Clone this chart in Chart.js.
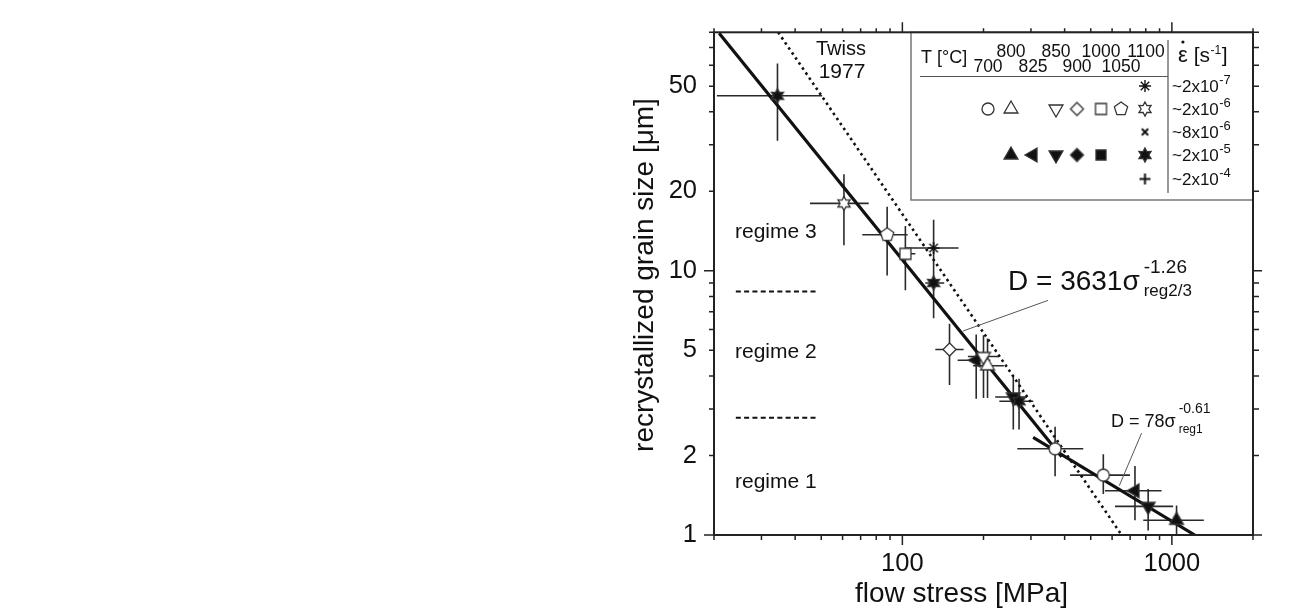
<!DOCTYPE html>
<html>
<head>
<meta charset="utf-8">
<script src="https://cdn.jsdelivr.net/npm/chart.js@4.4.1/dist/chart.umd.min.js"></script>
<style>
  html, body { margin: 0; padding: 0; background: #fff; }
  #wrap { width: 1298px; height: 615px; }
</style>
</head>
<body>
<div id="wrap"><canvas id="chart" width="1298" height="615"></canvas></div>
<script>
// measured points: flow stress [MPa] and recrystallized grain size [um], with error ranges
var stress    = [34.4, 60.7, 87.8, 102.6, 130.6, 130.6, 149.6, 187.9, 200, 207, 258, 271, 368.7, 556.7, 729.6, 816.6, 1040.8];
var stressLo  = [20.5, 45.4, 71.0, 97.7, 102.6, 121.7, 132.5, 160.3, 175, 183, 221, 229, 267, 419, 564.5, 615, 783];
var stressHi  = [50.4, 75.0, 104.6, 111.7, 161.6, 143, 168.7, 212, 228, 238, 290, 306, 469, 699, 915.7, 1011, 1314];
var grainSize = [46.0, 18.0, 13.7, 11.6, 12.2, 9.0, 5.04, 4.59, 4.74, 4.37, 3.33, 3.21, 2.12, 1.685, 1.47, 1.283, 1.137];
var sizeLo    = [31.1, 12.5, 9.6, 8.44, 9.0, 6.62, 3.70, 3.28, 3.3, 3.3, 2.51, 2.51, 1.67, 1.43, 1.137, 1.04, 1.0];
var sizeHi    = [60.9, 23.2, 17.5, 14.8, 15.6, 11.5, 6.30, 5.74, 5.7, 5.55, 4.02, 3.90, 2.57, 2.02, 1.824, 1.494, 1.294];
var symbols   = ['starFilled', 'starOpen', 'pentagonOpen', 'squareOpen', 'asterisk', 'starFilled', 'diamondOpen',
                 'triLeftFilled', 'triDownOpen', 'triUpOpen', 'triDownFilled', 'starFilled', 'circleOpen', 'circleOpen',
                 'triLeftFilled', 'triDownFilled', 'triUpFilled'];

// lines
var twissStress = [34.6, 651];
var twissSize   = [80, 1];
var reg23Stress = [20.9, 390];
var reg23Size   = [79.3, 1.98];
var reg1Stress  = [305.6, 1216];
var reg1Size    = [2.34, 1.0];
var regimeStress = [24.1, 48.9];
var regimeBounds = [8.35, 2.78];

// axes
var xTickVals = [20, 30, 40, 50, 60, 70, 80, 90, 100, 200, 300, 400, 500, 600, 700, 800, 900, 1000, 2000];
var yTickVals = [1, 2, 3, 4, 5, 6, 7, 8, 9, 10, 20, 30, 40, 50, 60, 70, 80];
var xLabels = [100, 1000];
var yLabels = [1, 2, 5, 10, 20, 50];

// legend table
var tempTop = ['800', '850', '1000', '1100'];
var tempBottom = ['700', '825', '900', '1050'];
var rateMant = ['~2x10', '~2x10', '~8x10', '~2x10', '~2x10'];
var rateExp = ['-7', '-6', '-6', '-5', '-4'];
var legendRows = [
  [['asterisk', '1100']],
  [['circleOpen', '700'], ['triUpOpen', '800'], ['triDownOpen', '850'], ['diamondOpen', '900'],
   ['squareOpen', '1000'], ['pentagonOpen', '1050'], ['starOpen', '1100']],
  [['xcross', '1100']],
  [['triUpFilled', '800'], ['triLeftFilled', '825'], ['triDownFilled', '850'], ['diamondFilled', '900'],
   ['squareFilled', '1000'], ['starFilled', '1100']],
  [['plus', '1100']]
];

var FONT = '"Liberation Sans", Arial, Helvetica, sans-serif';

var markerSize = {
  circleOpen: 6, squareOpen: 5.5, squareFilled: 5, diamondOpen: 6.5, diamondFilled: 6.5,
  triUpOpen: 8, triDownOpen: 8, triUpFilled: 8, triDownFilled: 8, triLeftFilled: 8,
  pentagonOpen: 7, starOpen: 7, starFilled: 7, asterisk: 6, xcross: 4.5, plus: 5.5
};

function poly(g, n, r, rot) {
  for (var i = 0; i < n; i++) {
    var a = rot - Math.PI / 2 + i * 2 * Math.PI / n;
    if (i === 0) g.moveTo(r * Math.cos(a), r * Math.sin(a));
    else g.lineTo(r * Math.cos(a), r * Math.sin(a));
  }
  g.closePath();
}

function starPath(g, n, r1, r2) {
  for (var i = 0; i < 2 * n; i++) {
    var a = -Math.PI / 2 + i * Math.PI / n;
    var r = i % 2 ? r2 : r1;
    if (i === 0) g.moveTo(r * Math.cos(a), r * Math.sin(a));
    else g.lineTo(r * Math.cos(a), r * Math.sin(a));
  }
  g.closePath();
}

var markerCache = {};
function makeMarker(kind, r) {
  var key = kind + r;
  if (markerCache[key]) return markerCache[key];
  var c = document.createElement('canvas');
  c.width = c.height = Math.ceil(2 * r + 6);
  var g = c.getContext('2d');
  var m = c.width / 2;
  g.translate(m, m);
  var filled = /Filled$/.test(kind);
  var base = kind.replace('Filled', '').replace('Open', '');
  g.lineWidth = 1.3;
  g.strokeStyle = '#333';
  g.fillStyle = filled ? '#111' : '#fff';
  g.beginPath();
  if (base === 'asterisk' || base === 'xcross' || base === 'plus') {
    g.strokeStyle = '#111';
    g.lineWidth = base === 'asterisk' ? 1.4 : 2;
    var n = base === 'asterisk' ? 4 : 2;
    var off = base === 'xcross' ? Math.PI / 4 : 0;
    for (var i = 0; i < n; i++) {
      var a = off + i * Math.PI / n;
      g.moveTo(-r * Math.cos(a), -r * Math.sin(a));
      g.lineTo(r * Math.cos(a), r * Math.sin(a));
    }
    g.stroke();
  } else {
    if (base === 'circle') g.arc(0, 0, r, 0, 2 * Math.PI);
    else if (base === 'square') g.rect(-r, -r, 2 * r, 2 * r);
    else if (base === 'diamond') poly(g, 4, r, 0);
    else if (base === 'triUp') poly(g, 3, r, 0);
    else if (base === 'triDown') poly(g, 3, r, Math.PI);
    else if (base === 'triLeft') poly(g, 3, r, -Math.PI / 2);
    else if (base === 'pentagon') poly(g, 5, r, 0);
    else if (base === 'star') starPath(g, 6, r, r * 0.55);
    g.fill();
    g.stroke();
  }
  markerCache[key] = c;
  return c;
}

function pts(xs, ys) {
  return xs.map(function (v, i) { return { x: v, y: ys[i] }; });
}

function text(ctx, s, x, y, size, align) {
  ctx.font = size + 'px ' + FONT;
  ctx.textAlign = align || 'left';
  ctx.fillText(s, x, y);
  return ctx.measureText(s).width;
}

var errorBars = {
  id: 'errorBars',
  beforeDatasetsDraw: function (chart) {
    var ctx = chart.ctx, xs = chart.scales.x, ys = chart.scales.y;
    ctx.save();
    ctx.strokeStyle = '#2a2a2a';
    ctx.lineWidth = 1.6;
    ctx.beginPath();
    stress.forEach(function (s, i) {
      var px = xs.getPixelForValue(s), py = ys.getPixelForValue(grainSize[i]);
      ctx.moveTo(xs.getPixelForValue(stressLo[i]), py);
      ctx.lineTo(xs.getPixelForValue(stressHi[i]), py);
      ctx.moveTo(px, ys.getPixelForValue(sizeLo[i]));
      ctx.lineTo(px, ys.getPixelForValue(sizeHi[i]));
    });
    ctx.stroke();
    ctx.restore();
  }
};

var decor = {
  id: 'decor',
  afterDatasetsDraw: function (chart) {
    var ctx = chart.ctx, a = chart.chartArea, xs = chart.scales.x, ys = chart.scales.y;
    ctx.save();
    ctx.fillStyle = '#111';
    ctx.textBaseline = 'alphabetic';

    // leader lines for the fits
    ctx.strokeStyle = '#555';
    ctx.lineWidth = 1;
    ctx.beginPath();
    ctx.moveTo(xs.getPixelForValue(347), ys.getPixelForValue(7.73));
    ctx.lineTo(xs.getPixelForValue(168), ys.getPixelForValue(5.92));
    ctx.moveTo(xs.getPixelForValue(772), ys.getPixelForValue(2.43));
    ctx.lineTo(xs.getPixelForValue(638), ys.getPixelForValue(1.537));
    ctx.stroke();

    // equations
    var w = text(ctx, 'D = 3631\u03c3', 1008, 290, 28);
    text(ctx, '-1.26', 1008 + w + 4, 273, 19);
    text(ctx, 'reg2/3', 1008 + w + 4, 296, 17);
    w = text(ctx, 'D = 78\u03c3', 1111, 427, 18);
    text(ctx, '-0.61', 1111 + w + 3, 413, 14);
    text(ctx, 'reg1', 1111 + w + 3, 433, 12);

    text(ctx, 'Twiss', 841, 55, 20, 'center');
    text(ctx, '1977', 842, 78, 21, 'center');

    text(ctx, 'regime 3', 735, 238, 21);
    text(ctx, 'regime 2', 735, 358, 21);
    text(ctx, 'regime 1', 735, 488, 21);

    // legend box
    var bx = 911, by = a.top, bw = a.right - 911, bh = 200 - a.top;
    ctx.fillStyle = '#fff';
    ctx.fillRect(bx, by, bw, bh);
    ctx.strokeStyle = '#777';
    ctx.lineWidth = 1.5;
    ctx.strokeRect(bx, by, bw, bh);
    ctx.strokeStyle = '#555';
    ctx.lineWidth = 1.2;
    ctx.beginPath();
    ctx.moveTo(920, 76.5); ctx.lineTo(1168, 76.5);
    ctx.moveTo(1168, 40); ctx.lineTo(1168, 193);
    ctx.stroke();

    ctx.fillStyle = '#111';
    text(ctx, 'T [\u00b0C]', 921, 63, 18);
    var colX = { '700': 988, '800': 1011, '825': 1033, '850': 1056, '900': 1077, '1000': 1101, '1050': 1121, '1100': 1146 };
    tempTop.forEach(function (t) { text(ctx, t, colX[t], 56.5, 17.5, 'center'); });
    tempBottom.forEach(function (t) { text(ctx, t, colX[t], 71.5, 17.5, 'center'); });

    var rowY = [86, 109, 132, 155, 179];
    legendRows.forEach(function (row, r) {
      row.forEach(function (cell) {
        var img = makeMarker(cell[0], markerSize[cell[0]]);
        var cx = colX[cell[1]] - (cell[1] === '1100' ? 1 : 0);
        ctx.drawImage(img, cx - img.width / 2, rowY[r] - img.height / 2);
      });
      var mw = text(ctx, rateMant[r], 1172, rowY[r] + 6, 17);
      text(ctx, rateExp[r], 1172 + mw + 0.5, rowY[r] - 2, 13);
    });

    // strain rate header
    var ex = 1178;
    var ew = text(ctx, '\u03b5', ex, 62, 22);
    ctx.beginPath();
    ctx.arc(ex + ew / 2, 42, 1.6, 0, 2 * Math.PI);
    ctx.fill();
    var sw = text(ctx, ' [s', ex + ew, 62, 21);
    var supw = text(ctx, '-1', ex + ew + sw + 0.5, 54, 12);
    text(ctx, ']', ex + ew + sw + supw + 1, 62, 21);

    // ticks on all four sides, pointing outwards
    ctx.strokeStyle = '#222';
    ctx.lineWidth = 1.5;
    ctx.beginPath();
    function isDecade(v) { var l = Math.log10(v); return Math.abs(l - Math.round(l)) < 1e-9; }
    xTickVals.forEach(function (v) {
      var px = xs.getPixelForValue(v);
      var major = isDecade(v);
      ctx.moveTo(px, a.bottom); ctx.lineTo(px, a.bottom + (major ? 10 : 5));
      ctx.moveTo(px, a.top); ctx.lineTo(px, a.top - (major ? 10 : 4));
    });
    yTickVals.forEach(function (v) {
      var py = ys.getPixelForValue(v);
      var major = isDecade(v);
      ctx.moveTo(a.left, py); ctx.lineTo(a.left - (major ? 10 : 5), py);
      ctx.moveTo(a.right, py); ctx.lineTo(a.right + (major ? 9 : 6), py);
    });
    ctx.stroke();
    ctx.lineWidth = 2;
    ctx.strokeRect(a.left, a.top, a.right - a.left, a.bottom - a.top);

    // axis titles
    ctx.fillStyle = '#111';
    text(ctx, 'flow stress [MPa]', 961.5, 602, 28, 'center');
    ctx.translate(653, 275);
    ctx.rotate(-Math.PI / 2);
    text(ctx, 'recrystallized grain size [\u03bcm]', 0, 0, 28, 'center');
    ctx.restore();
  }
};

var lineStyle = { showLine: true, pointRadius: 0, fill: false, borderColor: '#111', tension: 0 };

new Chart(document.getElementById('chart').getContext('2d'), {
  type: 'scatter',
  data: {
    datasets: [
      {
        data: pts(stress, grainSize),
        pointStyle: symbols.map(function (s) { return makeMarker(s, markerSize[s]); }),
        pointRadius: 6,
        order: 0
      },
      Object.assign({ data: pts(twissStress, twissSize), borderWidth: 2.6, borderDash: [2.5, 3.6], order: 1 }, lineStyle),
      Object.assign({ data: pts(reg23Stress, reg23Size), borderWidth: 3.2, order: 1 }, lineStyle),
      Object.assign({ data: pts(reg1Stress, reg1Size), borderWidth: 3.2, order: 1 }, lineStyle),
      Object.assign({ data: pts(regimeStress, [regimeBounds[0], regimeBounds[0]]), borderWidth: 2, borderDash: [5, 3.3], order: 1 }, lineStyle),
      Object.assign({ data: pts(regimeStress, [regimeBounds[1], regimeBounds[1]]), borderWidth: 2, borderDash: [5, 3.3], order: 1 }, lineStyle)
    ]
  },
  options: {
    responsive: false,
    animation: false,
    events: [],
    layout: { padding: { left: 0, right: 45, top: 25, bottom: 0 } },
    plugins: { legend: { display: false }, tooltip: { enabled: false } },
    scales: {
      x: {
        type: 'logarithmic',
        position: 'bottom',
        min: 20,
        max: 2000,
        grid: { display: false, drawTicks: false },
        border: { display: false },
        afterBuildTicks: function (s) { s.ticks = xLabels.map(function (v) { return { value: v }; }); },
        afterFit: function (s) { s.height = 80; },
        ticks: {
          autoSkip: false, maxRotation: 0, padding: 14, color: '#111',
          font: { family: FONT, size: 25.5 },
          callback: function (v) { return String(v); }
        }
      },
      y: {
        type: 'logarithmic',
        position: 'left',
        min: 1,
        max: 80,
        grid: { display: false, drawTicks: false },
        border: { display: false },
        afterBuildTicks: function (s) { s.ticks = yLabels.map(function (v) { return { value: v }; }); },
        afterFit: function (s) { s.width = 714; },
        ticks: {
          autoSkip: false, padding: 17, color: '#111',
          font: { family: FONT, size: 25.5 },
          callback: function (v) { return String(v); }
        }
      }
    }
  },
  plugins: [errorBars, decor]
});
</script>
</body>
</html>
